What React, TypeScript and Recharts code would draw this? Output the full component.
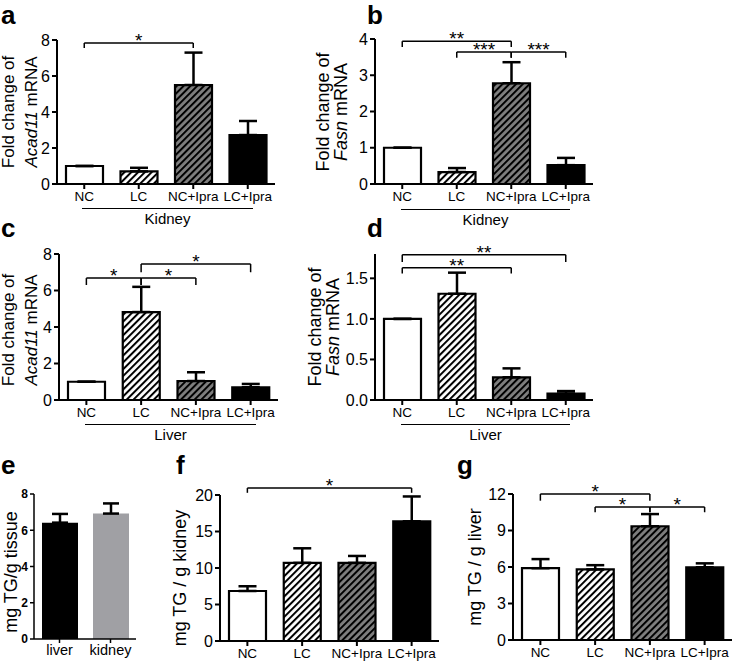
import React from "react";
import {
  Bar,
  BarChart,
  Cell,
  ErrorBar,
  ReferenceLine,
  XAxis,
  YAxis,
} from "recharts";

// groups shared by panels a-d, f, g
const groups = ["NC", "LC", "NC+Ipra", "LC+Ipra"];
const groupFills = ["#ffffff", "url(#hatchWhite)", "url(#hatchGray)", "#000000"];

// a: kidney Acad11
const kidneyAcad11 = [1.0, 0.7, 5.5, 2.72];
const kidneyAcad11Err = [0, 0.2, 1.8, 0.78];
// b: kidney Fasn
const kidneyFasn = [1.0, 0.33, 2.78, 0.52];
const kidneyFasnErr = [0, 0.11, 0.58, 0.2];
// c: liver Acad11
const liverAcad11 = [1.0, 4.82, 1.04, 0.7];
const liverAcad11Err = [0, 1.38, 0.48, 0.18];
// d: liver Fasn
const liverFasn = [1.0, 1.31, 0.28, 0.08];
const liverFasnErr = [0, 0.26, 0.11, 0.03];
// e: TG per tissue
const tissues = ["liver", "kidney"];
const tissueTG = [6.42, 6.92];
const tissueTGErr = [0.48, 0.56];
const tissueFills = ["#000000", "#a0a0a4"];
// f: kidney TG
const kidneyTG = [6.85, 10.7, 10.7, 16.4];
const kidneyTGErr = [0.65, 2.0, 0.95, 3.4];
// g: liver TG
const liverTG = [5.9, 5.8, 9.35, 5.98];
const liverTGErr = [0.75, 0.35, 1.0, 0.32];

// tick labels
const ticks8 = [0, 2, 4, 6, 8];
const ticks4 = [0, 1, 2, 3, 4];
const ticksFasnLiver = [0, 0.5, 1.0, 1.5];
const ticks20 = [0, 5, 10, 15, 20];
const ticks12 = [0, 3, 6, 9, 12];

interface Sig {
  from: string;
  to: string;
  y: number;
  drop: number;
  text: string;
}

const sigA: Sig[] = [{ from: "NC", to: "NC+Ipra", y: 7.83, drop: 7.55, text: "*" }];
const sigB: Sig[] = [
  { from: "NC", to: "NC+Ipra", y: 3.94, drop: 3.78, text: "**" },
  { from: "LC", to: "NC+Ipra", y: 3.64, drop: 3.48, text: "***" },
  { from: "NC+Ipra", to: "LC+Ipra", y: 3.64, drop: 3.48, text: "***" },
];
const sigC: Sig[] = [
  { from: "NC", to: "LC", y: 6.68, drop: 6.3, text: "*" },
  { from: "LC", to: "NC+Ipra", y: 6.68, drop: 6.3, text: "*" },
  { from: "LC", to: "LC+Ipra", y: 7.45, drop: 7.0, text: "*" },
];
const sigD: Sig[] = [
  { from: "NC", to: "LC+Ipra", y: 1.79, drop: 1.7, text: "**" },
  { from: "NC", to: "NC+Ipra", y: 1.63, drop: 1.56, text: "**" },
];
const sigF: Sig[] = [{ from: "NC", to: "LC+Ipra", y: 20.95, drop: 20.3, text: "*" }];
const sigG: Sig[] = [
  { from: "NC", to: "NC+Ipra", y: 12.0, drop: 11.45, text: "*" },
  { from: "LC", to: "NC+Ipra", y: 10.93, drop: 10.5, text: "*" },
  { from: "NC+Ipra", to: "LC+Ipra", y: 10.93, drop: 10.5, text: "*" },
];

const FONT = '"Liberation Sans", Arial, sans-serif';

function brackets(sigs: Sig[]) {
  return sigs.flatMap((s, i) => [
    <ReferenceLine
      key={`h${i}`}
      segment={[{ x: s.from, y: s.y }, { x: s.to, y: s.y }]}
      stroke="#000"
      strokeWidth={1.5}
      ifOverflow="visible"
      label={{ value: s.text, position: "top", offset: -4, fill: "#000", fontSize: 19 }}
    />,
    <ReferenceLine
      key={`l${i}`}
      segment={[{ x: s.from, y: s.y }, { x: s.from, y: s.drop }]}
      stroke="#000"
      strokeWidth={1.5}
      ifOverflow="visible"
    />,
    <ReferenceLine
      key={`r${i}`}
      segment={[{ x: s.to, y: s.y }, { x: s.to, y: s.drop }]}
      stroke="#000"
      strokeWidth={1.5}
      ifOverflow="visible"
    />,
  ]);
}

interface PanelProps {
  x0: number;
  y0: number;
  w: number;
  h: number;
  values: number[];
  errs: number[];
  max: number;
  ticks: number[];
  decimals?: number;
  sigs: Sig[];
}

function GroupPanel({ x0, y0, w, h, values, errs, max, ticks, decimals = 0, sigs }: PanelProps) {
  const data = groups.map((g, i) => ({ name: g, value: values[i], err: [0, errs[i]] }));
  const axisStyle = { stroke: "#000", strokeWidth: 2 };
  return (
    <div style={{ position: "absolute", left: x0 - 50, top: y0 - 30 }}>
      <BarChart
        width={w + 60}
        height={h + 70}
        data={data}
        margin={{ top: 30, right: 10, bottom: 0, left: 0 }}
      >
        <XAxis
          dataKey="name"
          height={40}
          interval={0}
          tickSize={5}
          axisLine={axisStyle}
          tickLine={axisStyle}
          tick={{ fill: "#000", fontSize: 13.5 }}
        />
        <YAxis
          width={50}
          type="number"
          domain={[0, max]}
          ticks={ticks}
          tickSize={5}
          axisLine={axisStyle}
          tickLine={axisStyle}
          tick={{ fill: "#000", fontSize: 16 }}
          tickFormatter={(v: number) => v.toFixed(decimals)}
        />
        <Bar dataKey="value" barSize={37} stroke="#000" strokeWidth={2.2} isAnimationActive={false}>
          {data.map((d, i) => (
            <Cell key={d.name} fill={groupFills[i]} />
          ))}
          <ErrorBar dataKey="err" direction="y" width={9} stroke="#000" strokeWidth={2.5} />
        </Bar>
        {brackets(sigs)}
      </BarChart>
    </div>
  );
}

function TissuePanel() {
  const x0 = 34;
  const y0 = 494;
  const w = 102;
  const h = 145;
  const data = tissues.map((t, i) => ({ name: t, value: tissueTG[i], err: [0, tissueTGErr[i]] }));
  const axisStyle = { stroke: "#000", strokeWidth: 1.5 };
  return (
    <div style={{ position: "absolute", left: x0 - 50, top: y0 - 30 }}>
      <BarChart
        width={w + 60}
        height={h + 70}
        data={data}
        margin={{ top: 30, right: 10, bottom: 0, left: 0 }}
      >
        <XAxis
          dataKey="name"
          height={40}
          interval={0}
          tickSize={4}
          axisLine={axisStyle}
          tickLine={axisStyle}
          tick={{ fill: "#000", fontSize: 14.5 }}
        />
        <YAxis
          width={50}
          type="number"
          domain={[0, 8]}
          ticks={ticks8}
          tickSize={4}
          axisLine={axisStyle}
          tickLine={axisStyle}
          tick={{ fill: "#000", fontSize: 12, fontWeight: "bold" }}
        />
        <Bar dataKey="value" barSize={36} isAnimationActive={false}>
          {data.map((d, i) => (
            <Cell key={d.name} fill={tissueFills[i]} />
          ))}
          <ErrorBar dataKey="err" direction="y" width={8} stroke="#000" strokeWidth={2.5} />
        </Bar>
      </BarChart>
    </div>
  );
}

function YTitle({ cx, cy, lines, size, lh }: { cx: number; cy: number; lines: React.ReactNode[]; size: number; lh: number }) {
  return (
    <div
      style={{
        position: "absolute",
        left: cx,
        top: cy,
        transform: "translate(-50%, -50%) rotate(-90deg)",
        whiteSpace: "nowrap",
        textAlign: "center",
        fontSize: size,
        lineHeight: `${lh}px`,
      }}
    >
      {lines.map((l, i) => (
        <div key={i}>{l}</div>
      ))}
    </div>
  );
}

function Letter({ x, baseline, text }: { x: number; baseline: number; text: string }) {
  return (
    <div style={{ position: "absolute", left: x, top: baseline - 22, fontSize: 26, fontWeight: "bold", lineHeight: "26px" }}>
      {text}
    </div>
  );
}

function GroupLabel({ x1, x2, y, text }: { x1: number; x2: number; y: number; text: string }) {
  return (
    <>
      <div style={{ position: "absolute", left: x1, top: y, width: x2 - x1, height: 0, borderTop: "1.5px solid #000" }} />
      <div style={{ position: "absolute", left: x1, top: y + 2, width: x2 - x1, textAlign: "center", fontSize: 15, lineHeight: "18px" }}>
        {text}
      </div>
    </>
  );
}

export default function App() {
  return (
    <div
      style={{
        position: "absolute",
        left: 0,
        top: 0,
        width: 734,
        height: 662,
        overflow: "hidden",
        background: "#fff",
        fontFamily: FONT,
        color: "#000",
      }}
    >
      <svg width={0} height={0} style={{ position: "absolute" }}>
        <defs>
          <pattern id="hatchWhite" patternUnits="userSpaceOnUse" width={4.8} height={4.8} patternTransform="rotate(45)">
            <rect width={4.8} height={4.8} fill="#fff" />
            <rect width={2} height={4.8} fill="#000" />
          </pattern>
          <pattern id="hatchGray" patternUnits="userSpaceOnUse" width={4.8} height={4.8} patternTransform="rotate(45)">
            <rect width={4.8} height={4.8} fill="#7f7f7f" />
            <rect width={2} height={4.8} fill="#000" />
          </pattern>
        </defs>
      </svg>

      <Letter x={1} baseline={24} text="a" />
      <Letter x={367} baseline={24} text="b" />
      <Letter x={1} baseline={237} text="c" />
      <Letter x={367} baseline={237} text="d" />
      <Letter x={1} baseline={474} text="e" />
      <Letter x={176} baseline={474} text="f" />
      <Letter x={457} baseline={474} text="g" />

      <YTitle cx={20} cy={112} size={17} lh={23} lines={["Fold change of", <><i>Acad11</i> mRNA</>]} />
      <YTitle cx={332} cy={112} size={18} lh={18} lines={["Fold change of", <><i>Fasn</i> mRNA</>]} />
      <YTitle cx={20} cy={330} size={17} lh={23} lines={["Fold change of", <><i>Acad11</i> mRNA</>]} />
      <YTitle cx={324} cy={327} size={18} lh={18} lines={["Fold change of", <><i>Fasn</i> mRNA</>]} />
      <YTitle cx={11} cy={572} size={18} lh={20} lines={["mg TG/g tissue"]} />
      <YTitle cx={180} cy={578} size={18} lh={20} lines={["mg TG / g kidney"]} />
      <YTitle cx={475} cy={567} size={18} lh={20} lines={["mg TG / g liver"]} />

      <GroupPanel x0={57} y0={40} w={218} h={144} values={kidneyAcad11} errs={kidneyAcad11Err} max={8} ticks={ticks8} sigs={sigA} />
      <GroupPanel x0={375} y0={39} w={218} h={145} values={kidneyFasn} errs={kidneyFasnErr} max={4} ticks={ticks4} sigs={sigB} />
      <GroupPanel x0={59} y0={254} w={219} h={146} values={liverAcad11} errs={liverAcad11Err} max={8} ticks={ticks8} sigs={sigC} />
      <GroupPanel x0={375} y0={254} w={218} h={146} values={liverFasn} errs={liverFasnErr} max={1.8} ticks={ticksFasnLiver} decimals={1} sigs={sigD} />
      <TissuePanel />
      <GroupPanel x0={220} y0={495} w={219} h={146} values={kidneyTG} errs={kidneyTGErr} max={20} ticks={ticks20} sigs={sigF} />
      <GroupPanel x0={513} y0={494} w={219} h={146} values={liverTG} errs={liverTGErr} max={12} ticks={ticks12} sigs={sigG} />

      <GroupLabel x1={82} x2={253} y={208} text="Kidney" />
      <GroupLabel x1={401} x2={570} y={209} text="Kidney" />
      <GroupLabel x1={85} x2={256} y={424} text="Liver" />
      <GroupLabel x1={401} x2={570} y={424} text="Liver" />
    </div>
  );
}
